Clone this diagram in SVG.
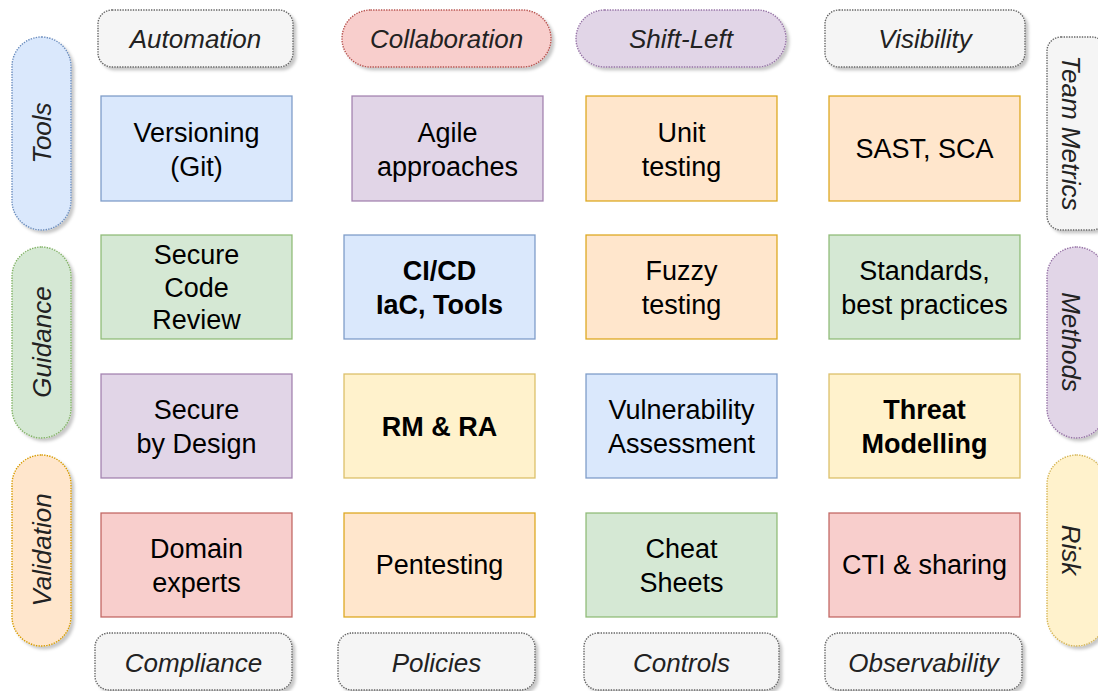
<svg xmlns="http://www.w3.org/2000/svg" width="1098" height="691" viewBox="0 0 1098 691">
<defs>
<filter id="sh" x="-10%" y="-10%" width="130%" height="130%">
<feDropShadow dx="3" dy="3" stdDeviation="1.5" flood-color="#000" flood-opacity="0.22"/>
</filter>
<style>
.blue{fill:#dae8fc;stroke:#6c8ebf}
.green{fill:#d5e8d4;stroke:#82b366}
.orange{fill:#ffe6cc;stroke:#d79b00}
.yellow{fill:#fff2cc;stroke:#d6b656}
.red{fill:#f8cecc;stroke:#b85450}
.purple{fill:#e1d5e7;stroke:#9673a6}
.gray{fill:#f5f5f5;stroke:#666666}
.box{stroke-width:1.3;stroke-opacity:0.85}
.pill{stroke-width:1.4;stroke-dasharray:1.4 1.2;filter:url(#sh)}
.t{font-family:"Liberation Sans",Arial,sans-serif;font-size:27px;fill:#000;text-anchor:middle}
.b{font-weight:bold}
.p{font-family:"Liberation Sans",Arial,sans-serif;font-size:26px;font-style:italic;fill:#222;text-anchor:middle}
</style>
</defs>
<rect width="1098" height="691" fill="#ffffff"/>
<g id="connectors"/>

<!-- top pills -->
<g id="automation"><rect class="gray pill" x="98" y="10" width="195" height="57" rx="14"/><text class="p" x="195.5" y="48">Automation</text></g>
<g id="collaboration"><rect class="red pill" x="342" y="10" width="209" height="57" rx="28.5"/><text class="p" x="446.5" y="48">Collaboration</text></g>
<g id="shiftleft"><rect class="purple pill" x="576" y="10" width="210" height="57" rx="28.5"/><text class="p" x="681" y="48">Shift-Left</text></g>
<g id="visibility"><rect class="gray pill" x="825" y="10" width="200" height="57" rx="14"/><text class="p" x="925" y="48">Visibility</text></g>

<!-- left pills -->
<g id="tools"><rect class="blue pill" x="12" y="37" width="59" height="193" rx="29.5"/><text class="p" transform="translate(41.5,133) rotate(-90)" x="0" y="9">Tools</text></g>
<g id="guidance"><rect class="green pill" x="12" y="247" width="59" height="191" rx="29.5"/><text class="p" transform="translate(41.5,342) rotate(-90)" x="0" y="9">Guidance</text></g>
<g id="validation"><rect class="orange pill" x="12" y="455" width="59" height="191" rx="29.5"/><text class="p" transform="translate(41.5,550) rotate(-90)" x="0" y="9">Validation</text></g>

<!-- right pills -->
<g id="teammetrics"><rect class="gray pill" x="1047" y="37" width="59" height="193" rx="14"/><text class="p" transform="translate(1071,133) rotate(90)" x="0" y="9">Team Metrics</text></g>
<g id="methods"><rect class="purple pill" x="1047" y="247" width="59" height="191" rx="29.5"/><text class="p" transform="translate(1071,342) rotate(90)" x="0" y="9">Methods</text></g>
<g id="risk"><rect class="yellow pill" x="1047" y="455" width="59" height="191" rx="29.5"/><text class="p" transform="translate(1071,550) rotate(90)" x="0" y="9">Risk</text></g>

<!-- bottom pills -->
<g id="compliance"><rect class="gray pill" x="95" y="633" width="197" height="57" rx="14"/><text class="p" x="193.5" y="672">Compliance</text></g>
<g id="policies"><rect class="gray pill" x="338" y="633" width="197" height="57" rx="14"/><text class="p" x="436.5" y="672">Policies</text></g>
<g id="controls"><rect class="gray pill" x="584" y="633" width="195" height="57" rx="14"/><text class="p" x="681.5" y="672">Controls</text></g>
<g id="observability"><rect class="gray pill" x="825" y="633" width="197" height="57" rx="14"/><text class="p" x="923.5" y="672">Observability</text></g>

<!-- row 1 -->
<g id="versioning"><rect class="blue box" x="101" y="96" width="191" height="105"/><text class="t" x="196.5" y="142">Versioning</text><text class="t" x="196.5" y="176">(Git)</text></g>
<g id="agile"><rect class="purple box" x="352" y="96" width="191" height="105"/><text class="t" x="447.5" y="142">Agile</text><text class="t" x="447.5" y="176">approaches</text></g>
<g id="unittesting"><rect class="orange box" x="586" y="96" width="191" height="105"/><text class="t" x="681.5" y="142">Unit</text><text class="t" x="681.5" y="176">testing</text></g>
<g id="sast"><rect class="orange box" x="829" y="96" width="191" height="105"/><text class="t" x="924.5" y="158">SAST, SCA</text></g>

<!-- row 2 -->
<g id="securecodereview"><rect class="green box" x="101" y="235" width="191" height="104"/><text class="t" x="196.5" y="264">Secure</text><text class="t" x="196.5" y="296.5">Code</text><text class="t" x="196.5" y="329">Review</text></g>
<g id="cicd"><rect class="blue box" x="344" y="235" width="191" height="104"/><text class="t b" x="439.5" y="280">CI/CD</text><text class="t b" x="439.5" y="314">IaC, Tools</text></g>
<g id="fuzzy"><rect class="orange box" x="586" y="235" width="191" height="104"/><text class="t" x="681.5" y="280">Fuzzy</text><text class="t" x="681.5" y="314">testing</text></g>
<g id="standards"><rect class="green box" x="829" y="235" width="191" height="104"/><text class="t" x="924.5" y="280">Standards,</text><text class="t" x="924.5" y="314">best practices</text></g>

<!-- row 3 -->
<g id="securebydesign"><rect class="purple box" x="101" y="374" width="191" height="104"/><text class="t" x="196.5" y="419">Secure</text><text class="t" x="196.5" y="453">by Design</text></g>
<g id="rmra"><rect class="yellow box" x="344" y="374" width="191" height="104"/><text class="t b" x="439.5" y="436">RM &amp; RA</text></g>
<g id="vuln"><rect class="blue box" x="586" y="374" width="191" height="104"/><text class="t" x="681.5" y="419">Vulnerability</text><text class="t" x="681.5" y="453">Assessment</text></g>
<g id="threat"><rect class="yellow box" x="829" y="374" width="191" height="104"/><text class="t b" x="924.5" y="419">Threat</text><text class="t b" x="924.5" y="453">Modelling</text></g>

<!-- row 4 -->
<g id="domain"><rect class="red box" x="101" y="513" width="191" height="104"/><text class="t" x="196.5" y="558">Domain</text><text class="t" x="196.5" y="592">experts</text></g>
<g id="pentesting"><rect class="orange box" x="344" y="513" width="191" height="104"/><text class="t" x="439.5" y="574">Pentesting</text></g>
<g id="cheatsheets"><rect class="green box" x="586" y="513" width="191" height="104"/><text class="t" x="681.5" y="558">Cheat</text><text class="t" x="681.5" y="592">Sheets</text></g>
<g id="cti"><rect class="red box" x="829" y="513" width="191" height="104"/><text class="t" x="924.5" y="574">CTI &amp; sharing</text></g>
</svg>
